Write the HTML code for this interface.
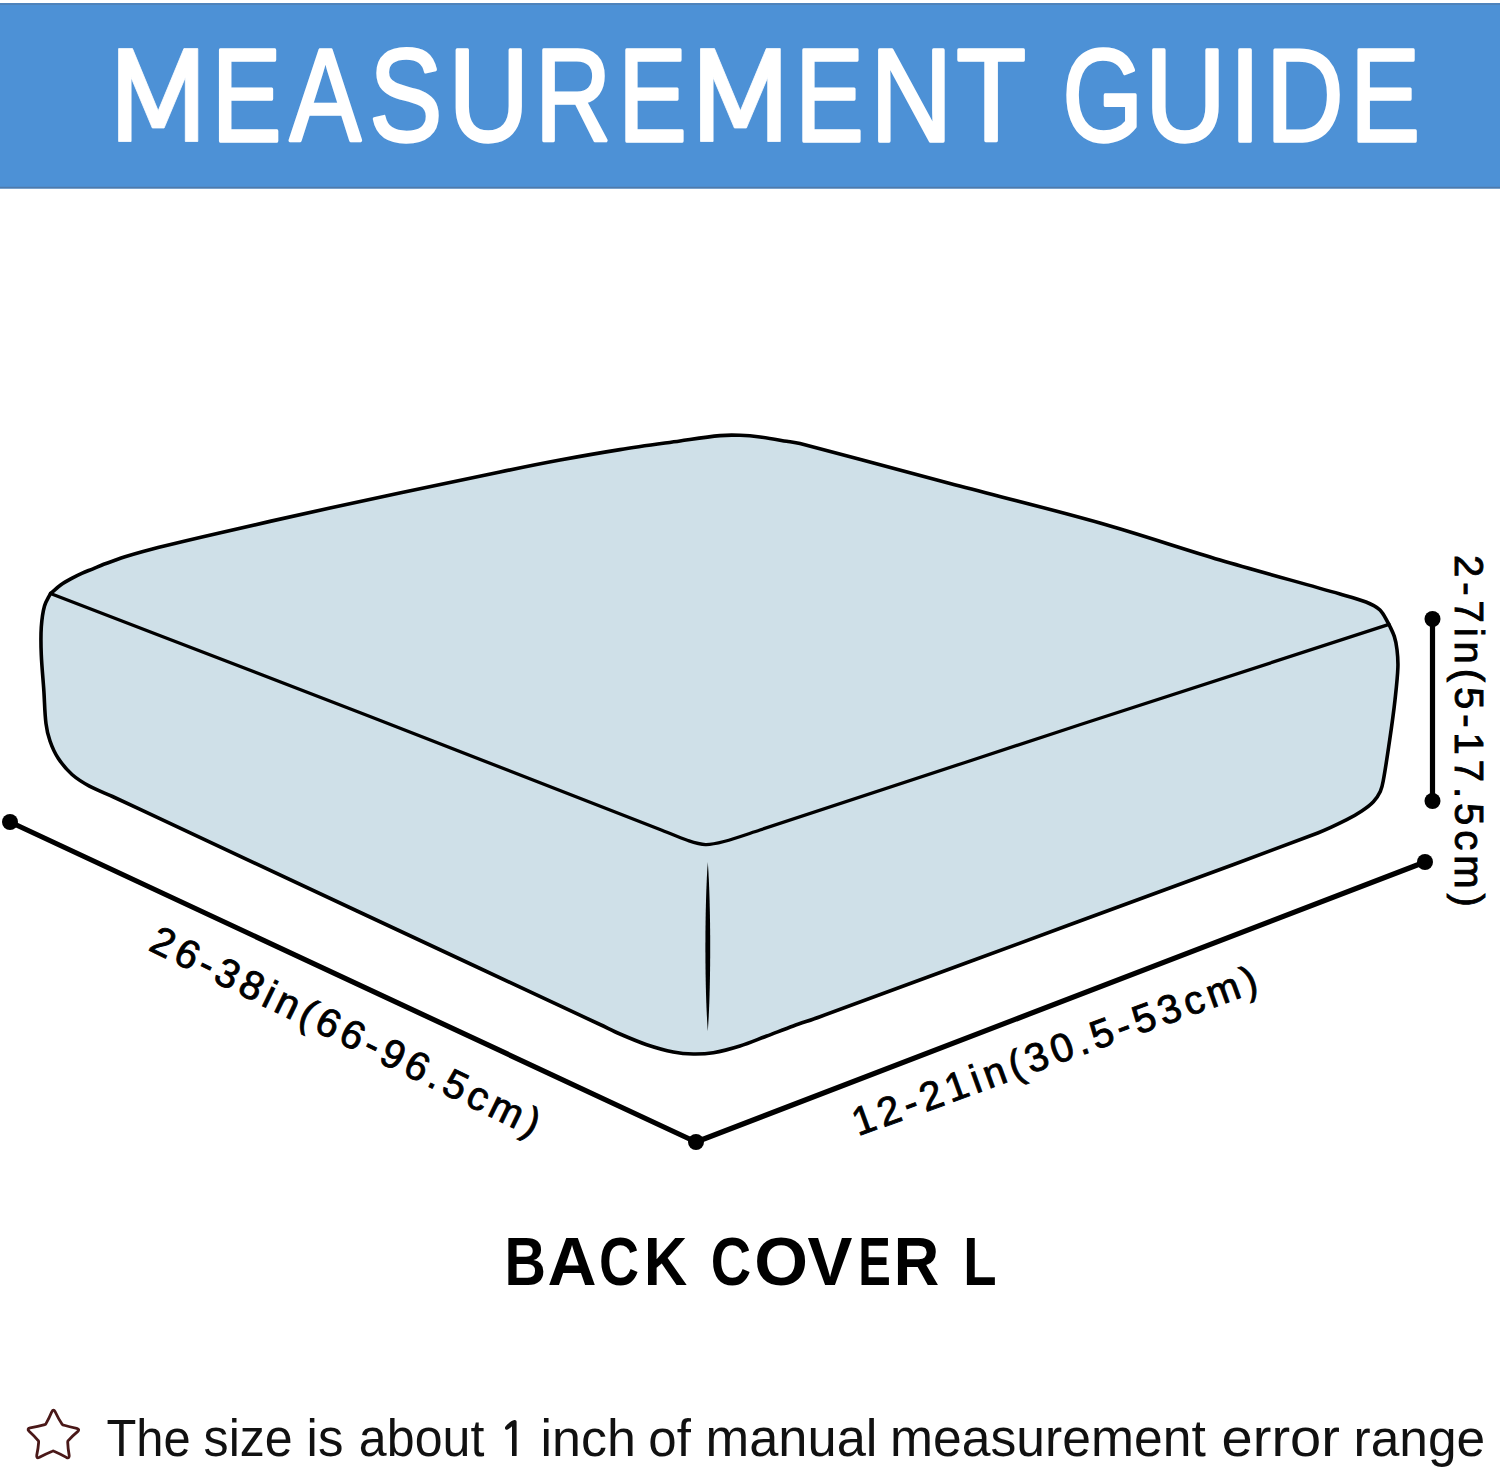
<!DOCTYPE html>
<html>
<head>
<meta charset="utf-8">
<style>
html,body{margin:0;padding:0;background:#fff;}
body{width:1500px;height:1469px;overflow:hidden;position:relative;font-family:"Liberation Sans",sans-serif;}
svg{position:absolute;left:0;top:0;display:block;}
</style>
</head>
<body>
<svg width="1500" height="1469" viewBox="0 0 1500 1469">
  <!-- banner -->
  <rect x="0" y="3" width="1500" height="185.5" fill="#4d91d6"/>
  <rect x="0" y="3.2" width="1500" height="1.8" fill="#4f82b8"/>
  <rect x="0" y="186.8" width="1500" height="1.7" fill="#4f7aab"/>

  <!-- cushion -->
  <g stroke="#000" stroke-width="3.6" stroke-linejoin="round" stroke-linecap="round" fill="#cfe0e8">
    <!-- whole silhouette -->
    <path d="M50.5,593.5 C54.0,590.6 57.3,587.4 61.0,584.8 C64.4,582.4 68.1,580.4 71.7,578.4 C75.2,576.5 78.7,574.7 82.3,573.1 C85.8,571.5 89.4,570.3 93.0,568.8 C96.6,567.3 100.1,565.7 103.7,564.3 C107.2,562.9 110.8,561.7 114.3,560.5 C117.9,559.2 121.4,557.9 125.0,556.8 C135.9,553.6 146.9,550.4 158.0,547.6 C178.4,542.5 198.9,537.7 219.4,533.0 C256.2,524.5 293.1,516.0 330.0,508.0 C386.6,495.7 443.3,483.8 500.0,472.0 C520.0,467.8 540.0,463.7 560.0,460.0 C580.0,456.3 600.0,452.8 620.0,449.6 C640.0,446.4 660.0,443.8 680.0,441.0 C693.3,439.1 706.6,436.9 720.0,435.6 C726.6,435.0 733.3,435.1 740.0,435.3 C746.7,435.5 753.4,436.1 760.0,437.0 C768.9,438.1 777.8,439.8 786.7,441.3 C791.1,442.0 795.6,442.5 800.0,443.6 C850.1,456.5 900.0,470.3 950.0,483.5 C1000.0,496.7 1050.3,508.9 1100.0,523.0 C1140.3,534.4 1179.9,548.1 1220.0,560.0 C1259.9,571.8 1300.0,582.5 1340.0,594.0 C1348.7,596.5 1357.6,598.7 1366.0,602.0 C1371.0,604.0 1376.3,606.4 1380.0,610.0 C1383.9,613.8 1386.0,619.6 1389.0,624.4 C1390.8,628.4 1393.0,632.3 1394.3,636.4 C1395.7,640.7 1396.5,645.2 1397.0,649.6 C1397.7,655.5 1398.1,661.4 1397.9,667.3 C1397.5,678.2 1396.2,689.1 1395.0,700.0 C1393.5,713.5 1391.6,727.0 1389.6,740.5 C1387.6,754.0 1385.7,767.6 1383.2,781.0 C1382.6,784.5 1381.8,788.2 1380.3,791.4 C1378.5,795.1 1376.2,798.8 1373.4,801.8 C1370.1,805.3 1365.9,808.3 1361.8,811.0 C1357.0,814.2 1352.0,817.1 1346.8,819.7 C1337.3,824.5 1327.7,829.2 1317.8,833.0 C1235.1,864.3 1152.0,894.4 1069.0,925.0 C986.0,955.6 903.1,986.3 820.0,1016.7 C811.2,1019.9 802.2,1022.8 793.3,1026.0 C784.4,1029.2 775.6,1032.7 766.7,1036.0 C757.8,1039.3 749.1,1043.2 740.0,1046.0 C731.3,1048.7 722.3,1051.2 713.3,1052.7 C706.7,1053.8 700.0,1054.1 693.3,1054.0 C686.6,1053.9 679.8,1053.3 673.3,1052.0 C664.3,1050.2 655.4,1047.6 646.7,1044.7 C637.6,1041.6 628.8,1037.8 620.0,1034.0 C613.2,1031.1 606.7,1027.6 600.0,1024.5 C518.7,986.5 437.3,948.5 356.0,910.5 C274.8,872.5 193.7,834.4 112.5,796.5 C104.8,792.9 96.8,790.1 89.4,786.1 C83.3,782.8 77.2,779.1 72.0,774.5 C66.8,769.8 62.1,764.2 58.2,758.3 C54.7,753.0 52.1,747.0 50.0,741.0 C48.0,735.4 46.7,729.5 46.0,723.6 C44.6,712.5 44.6,701.2 43.8,690.0 C43.0,678.3 41.8,666.7 41.3,655.0 C40.9,645.7 40.7,636.3 41.3,627.0 C41.8,620.0 42.6,612.8 44.5,606.0 C45.7,601.6 48.5,597.7 50.5,593.5 Z"/>
    <!-- front top edges -->
    <path fill="none" stroke-width="3.3" d="M50.5,593.5 C157.0,634.5 263.6,675.3 370.0,716.5 C466.7,754.0 563.3,791.8 660.0,829.5 C669.3,833.1 678.5,837.3 688.0,840.5 C693.7,842.4 699.6,844.4 705.5,844.6 C711.6,844.8 718.0,843.1 724.0,841.5 C736.1,838.2 748.0,833.9 760.0,830.0 C863.4,796.1 966.6,761.8 1070.0,728.0 C1176.3,693.3 1282.7,658.9 1389.0,624.4"/>
  </g>
  <!-- seam -->
  <path d="M707.8,862 C711,905 711,990 707.8,1031 C704.6,990 704.6,905 707.8,862 Z" fill="#000"/>

  <!-- dimension lines -->
  <g stroke="#000" stroke-width="5.2" fill="none" stroke-linecap="round">
    <line x1="10" y1="822" x2="696" y2="1142"/>
    <line x1="696" y1="1142" x2="1425" y2="862"/>
    <line x1="1432.5" y1="619" x2="1432.5" y2="801"/>
  </g>
  <g fill="#000">
    <circle cx="10" cy="822" r="8"/>
    <circle cx="696" cy="1142" r="8"/>
    <circle cx="1425" cy="862" r="8"/>
    <circle cx="1432.5" cy="619" r="8"/>
    <circle cx="1432.5" cy="801" r="8"/>
  </g>

  <!-- dimension labels -->
  <text transform="translate(147.2,949.6) rotate(26)" font-family="Liberation Sans" font-size="40" fill="#000" stroke="#000" stroke-width="0.9" letter-spacing="4.66">26-38in(66-96.5cm)</text>
  <text transform="translate(858,1136.3) rotate(-19.9)" font-family="Liberation Sans" font-size="40" fill="#000" stroke="#000" stroke-width="0.9" letter-spacing="4.62">12-21in(30.5-53cm)</text>
  <text transform="translate(1455.2,555) rotate(90)" font-family="Liberation Sans" font-size="40" fill="#000" stroke="#000" stroke-width="0.9" letter-spacing="4.97">2-7in(5-17.5cm)</text>

  <!-- star -->
  <path d="M51.81,1411.83 Q53.40,1408.60 55.15,1411.75 Q58.37,1418.57 61.96,1424.01 Q62.40,1424.80 63.27,1425.02 Q69.41,1427.05 76.71,1428.34 Q80.20,1429.20 77.59,1431.68 Q72.24,1436.18 68.25,1440.58 Q67.60,1441.20 67.70,1442.09 Q67.92,1448.36 69.20,1455.42 Q69.60,1459.00 66.38,1457.39 Q59.95,1453.71 54.00,1451.20 Q53.20,1450.80 52.39,1451.18 Q46.18,1453.64 39.46,1457.27 Q36.20,1458.80 36.73,1455.24 Q38.24,1448.27 38.67,1442.09 Q38.80,1441.20 38.17,1440.55 Q34.33,1435.93 29.10,1431.19 Q26.60,1428.60 30.12,1427.82 Q37.97,1426.60 44.72,1424.59 Q45.60,1424.40 46.00,1423.59 Q49.06,1418.40 51.81,1411.83 Z" fill="none" stroke="#4a1818" stroke-width="2.8" stroke-linejoin="round"/>
<path d="M512,1456 L516.6,1456 L516.6,1422 C516.6,1420.6 515.6,1419.9 514.4,1420.1 C511.5,1420.8 507.8,1423.4 505.3,1426.8 C504.4,1428.1 505.4,1430.1 507.2,1429.7 C508.9,1429.2 510.4,1427.6 512,1426.2 Z" fill="#111"/>
<g font-family="Liberation Sans">
<path d="M118.6,141.5 L118.6,48.6 L132.5,48.6 L158.2,110.8 L183.9,48.6 L197.8,48.6 L197.8,141.5 L185.3,141.5 L185.3,77.5 L164.1,128.0 L152.3,128.0 L131.1,77.5 L131.1,141.5 Z M700.5,141.5 L700.5,48.6 L714.5,48.6 L740.4,110.8 L766.3,48.6 L780.3,48.6 L780.3,141.5 L767.7,141.5 L767.7,77.5 L746.4,128.0 L734.4,128.0 L713.1,77.5 L713.1,141.5 Z" fill="#fff" stroke="#fff" stroke-width="0.8" stroke-linejoin="round"/>
<text transform="translate(211.83 140.50) scale(0.7974 1)" font-size="130.96" fill="#fff" stroke="#fff" stroke-width="3.40" stroke-linejoin="round">E</text>
<text transform="translate(289.79 140.50) scale(0.8153 1)" font-size="130.96" fill="#fff" stroke="#fff" stroke-width="3.40" stroke-linejoin="round">A</text>
<text transform="translate(369.22 140.50) scale(0.8370 1)" font-size="130.96" fill="#fff" stroke="#fff" stroke-width="3.40" stroke-linejoin="round">S</text>
<text transform="translate(448.40 140.50) scale(0.8512 1)" font-size="130.96" fill="#fff" stroke="#fff" stroke-width="3.40" stroke-linejoin="round">U</text>
<text transform="translate(535.05 140.50) scale(0.8051 1)" font-size="130.96" fill="#fff" stroke="#fff" stroke-width="3.40" stroke-linejoin="round">R</text>
<text transform="translate(618.28 140.50) scale(0.7833 1)" font-size="130.96" fill="#fff" stroke="#fff" stroke-width="3.40" stroke-linejoin="round">E</text>
<text transform="translate(795.28 140.50) scale(0.7833 1)" font-size="130.96" fill="#fff" stroke="#fff" stroke-width="3.40" stroke-linejoin="round">E</text>
<text transform="translate(870.36 140.50) scale(0.8694 1)" font-size="130.96" fill="#fff" stroke="#fff" stroke-width="3.40" stroke-linejoin="round">N</text>
<text transform="translate(956.13 140.50) scale(0.8724 1)" font-size="130.96" fill="#fff" stroke="#fff" stroke-width="3.40" stroke-linejoin="round">T</text>
<text transform="translate(1062.49 140.50) scale(0.7907 1)" font-size="130.96" fill="#fff" stroke="#fff" stroke-width="3.40" stroke-linejoin="round">G</text>
<text transform="translate(1145.06 140.50) scale(0.8552 1)" font-size="130.96" fill="#fff" stroke="#fff" stroke-width="3.40" stroke-linejoin="round">U</text>
<text transform="translate(1229.21 140.50) scale(0.8679 1)" font-size="130.96" fill="#fff" stroke="#fff" stroke-width="3.40" stroke-linejoin="round">I</text>
<text transform="translate(1265.89 140.50) scale(0.8200 1)" font-size="130.96" fill="#fff" stroke="#fff" stroke-width="3.40" stroke-linejoin="round">D</text>
<text transform="translate(1350.13 140.50) scale(0.7974 1)" font-size="130.96" fill="#fff" stroke="#fff" stroke-width="3.40" stroke-linejoin="round">E</text>
</g>
<g font-family="Liberation Sans">
<text transform="translate(504.46 1285.00) scale(0.8455 1)" font-size="67.88" font-weight="bold" fill="#000">B</text>
<text transform="translate(547.61 1285.00) scale(1.0013 1)" font-size="67.88" font-weight="bold" fill="#000">A</text>
<text transform="translate(599.02 1285.00) scale(0.8180 1)" font-size="67.88" font-weight="bold" fill="#000">C</text>
<text transform="translate(643.99 1285.00) scale(0.8826 1)" font-size="67.88" font-weight="bold" fill="#000">K</text>
<text transform="translate(710.70 1285.00) scale(0.8247 1)" font-size="67.88" font-weight="bold" fill="#000">C</text>
<text transform="translate(754.17 1285.00) scale(1.0177 1)" font-size="67.88" font-weight="bold" fill="#000">O</text>
<text transform="translate(807.54 1285.00) scale(0.9922 1)" font-size="67.88" font-weight="bold" fill="#000">V</text>
<text transform="translate(858.33 1285.00) scale(0.7195 1)" font-size="67.88" font-weight="bold" fill="#000">E</text>
<text transform="translate(893.78 1285.00) scale(0.9284 1)" font-size="67.88" font-weight="bold" fill="#000">R</text>
<text transform="translate(963.35 1285.00) scale(0.8038 1)" font-size="67.88" font-weight="bold" fill="#000">L</text>
</g>
<g font-family="Liberation Sans">
<text transform="translate(106.40 1455.50) scale(0.9589 1)" font-size="51.00" fill="#111">The</text>
<text transform="translate(203.61 1455.50) scale(0.9827 1)" font-size="51.00" fill="#111">size</text>
<text transform="translate(306.60 1455.50) scale(0.9976 1)" font-size="51.00" fill="#111">is</text>
<text transform="translate(358.87 1455.50) scale(0.9833 1)" font-size="51.00" fill="#111">about</text>
<text transform="translate(540.52 1455.50) scale(1.0192 1)" font-size="51.00" fill="#111">inch</text>
<text transform="translate(648.36 1455.50) scale(1.0008 1)" font-size="51.00" fill="#111">of</text>
<text transform="translate(705.52 1455.50) scale(1.0282 1)" font-size="51.00" fill="#111">manual</text>
<text transform="translate(890.07 1455.50) scale(1.0128 1)" font-size="51.00" fill="#111">measurement</text>
<text transform="translate(1221.62 1455.50) scale(1.0987 1)" font-size="51.00" fill="#111">error</text>
<text transform="translate(1353.58 1455.50) scale(1.0097 1)" font-size="51.00" fill="#111">range</text>
</g>
</svg>
</body>
</html>
